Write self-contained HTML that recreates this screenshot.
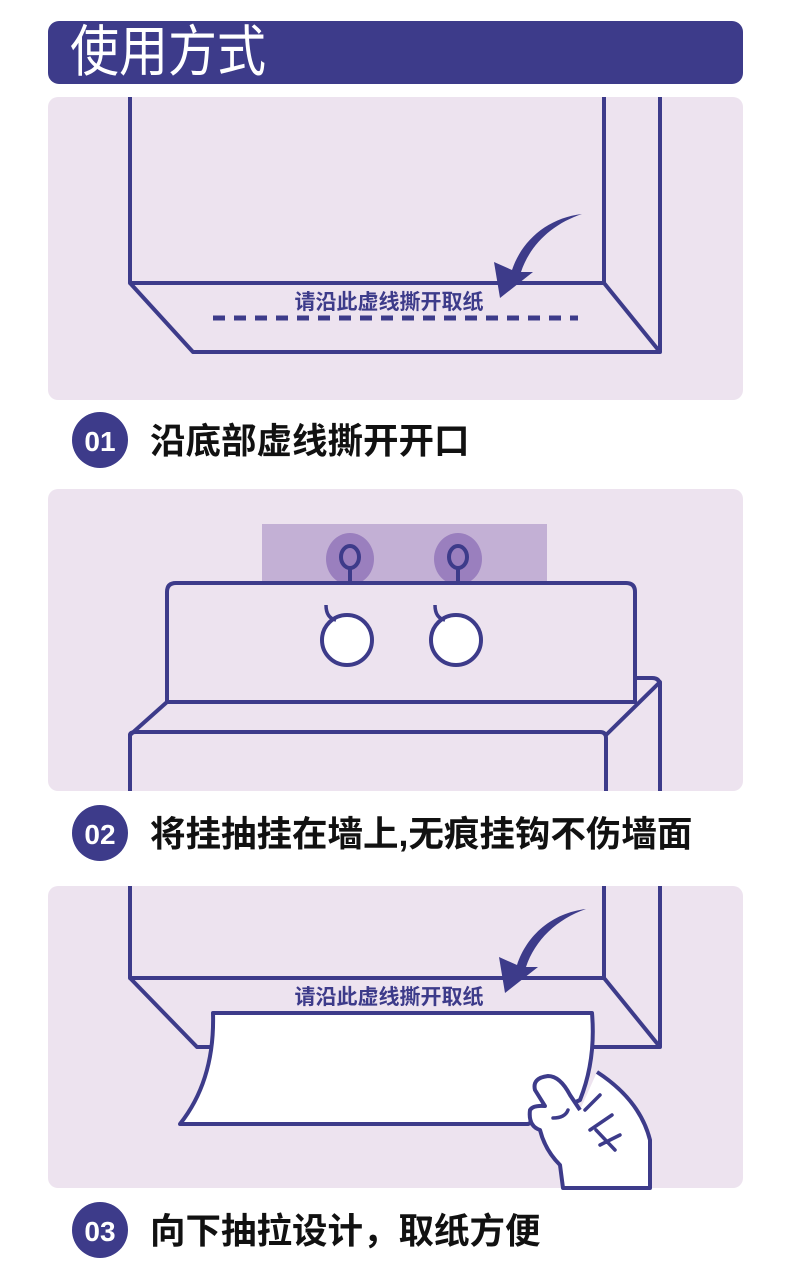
<!DOCTYPE html>
<html><head><meta charset="utf-8"><style>
html,body{margin:0;padding:0;background:#fff;width:790px;height:1276px;overflow:hidden}
svg{display:block}
text{font-family:"Liberation Sans","Noto Sans CJK SC",sans-serif}
</style></head><body>
<svg width="790" height="1276" viewBox="0 0 790 1276" xmlns="http://www.w3.org/2000/svg">
<rect x="48" y="21" width="695" height="63" rx="11" fill="#3d3b8a"/>
<text x="70" y="0" font-size="49" fill="#fff" transform="translate(0,71) scale(1,1.14)">使用方式</text>

<!-- Panel 1 -->
<rect x="48" y="97" width="695" height="303" rx="10" fill="#ede3ef"/>
<g fill="none" stroke="#3d3b8a" stroke-width="4" stroke-linejoin="round">
<path d="M130 97V283H604V97"/>
<path d="M660 97V352H193L130 283"/>
<path d="M604 283L660 352"/>
</g>
<line x1="213" y1="318" x2="578" y2="318" stroke="#3d3b8a" stroke-width="5" stroke-dasharray="12 9"/>
<text x="389" y="309" font-size="21" fill="#3d3b8a" text-anchor="middle" font-weight="bold">请沿此虚线撕开取纸</text>
<path d="M582 214C548 218 522 240 512 270L494 262L500 298L533 272L521 272C530 245 552 224 582 214Z" fill="#3d3b8a"/>

<circle cx="100" cy="440" r="28" fill="#3d3b8a"/>
<text x="100" y="451" font-size="28" font-weight="bold" fill="#fff" text-anchor="middle">01</text>
<text x="150" y="453" font-size="35.5" font-weight="bold" fill="#111">沿底部虚线撕开开口</text>

<!-- Panel 2 -->
<rect x="48" y="489" width="695" height="302" rx="10" fill="#ede3ef"/>
<rect x="262" y="524" width="285" height="59" fill="#c3b0d5"/>
<ellipse cx="350" cy="559" rx="24" ry="26" fill="#9a7fbe"/>
<ellipse cx="458" cy="559" rx="24" ry="26" fill="#9a7fbe"/>
<g fill="none" stroke="#3d3b8a" stroke-width="4">
<ellipse cx="350" cy="557" rx="9" ry="11"/>
<ellipse cx="458" cy="557" rx="9" ry="11"/>
<path d="M350 568V584M458 568V584"/>
</g>
<g fill="none" stroke="#3d3b8a" stroke-width="4" stroke-linejoin="round">
<path d="M167 702V592Q167 583 176 583H626Q635 583 635 592V702Z"/>
<path d="M167 702L130 735V791"/>
<path d="M130 735Q130 732 136 732H600Q606 732 606 738V791"/>
<path d="M606 735L660 682V791"/>
<path d="M635 678H652Q660 678 660 686"/>
</g>
<ellipse cx="347" cy="640" rx="25" ry="25" fill="#fff" stroke="#3d3b8a" stroke-width="4"/>
<ellipse cx="456" cy="640" rx="25" ry="25" fill="#fff" stroke="#3d3b8a" stroke-width="4"/>
<g fill="none" stroke="#3d3b8a" stroke-width="3.5">
<path d="M326 605Q326 618 336 620"/>
<path d="M435 605Q435 618 445 620"/>
</g>

<circle cx="100" cy="833" r="28" fill="#3d3b8a"/>
<text x="100" y="844" font-size="28" font-weight="bold" fill="#fff" text-anchor="middle">02</text>
<text x="150" y="846" font-size="35.5" font-weight="bold" fill="#111">将挂抽挂在墙上,无痕挂钩不伤墙面</text>

<!-- Panel 3 -->
<rect x="48" y="886" width="695" height="302" rx="10" fill="#ede3ef"/>
<g fill="none" stroke="#3d3b8a" stroke-width="4" stroke-linejoin="round">
<path d="M130 886V978H604V886"/>
<path d="M660 886V1047H590M215 1047H197L130 978"/>
<path d="M604 978L660 1047"/>
</g>
<text x="389" y="1004" font-size="21" fill="#3d3b8a" text-anchor="middle" font-weight="bold">请沿此虚线撕开取纸</text>
<path d="M586 909C552 913 527 935 517 965L499 957L505 993L538 967L526 967C535 940 557 919 586 909Z" fill="#3d3b8a"/>
<path d="M213 1013H592Q596 1060 580 1100L528 1124H180Q215 1080 213 1013Z" fill="#fff" stroke="#3d3b8a" stroke-width="4" stroke-linejoin="round"/>
<path d="M597 1072Q640 1100 650 1140V1188H563L560 1165Q545 1150 540 1130Q528 1126 530 1110Q533 1105 545 1106L535 1090Q532 1078 548 1076Q560 1076 570 1095L580 1110" fill="#fff" stroke="#3d3b8a" stroke-width="4" stroke-linejoin="round"/>
<g fill="none" stroke="#3d3b8a" stroke-width="3.5" stroke-linecap="round">
<path d="M553 1118Q565 1118 568 1110"/>
<path d="M585 1110L600 1095M590 1130L612 1115M600 1145L620 1135M596 1130L615 1150"/>
</g>

<circle cx="100" cy="1230" r="28" fill="#3d3b8a"/>
<text x="100" y="1241" font-size="28" font-weight="bold" fill="#fff" text-anchor="middle">03</text>
<text x="150" y="1243" font-size="35.5" font-weight="bold" fill="#111">向下抽拉设计，取纸方便</text>
</svg>
</body></html>
